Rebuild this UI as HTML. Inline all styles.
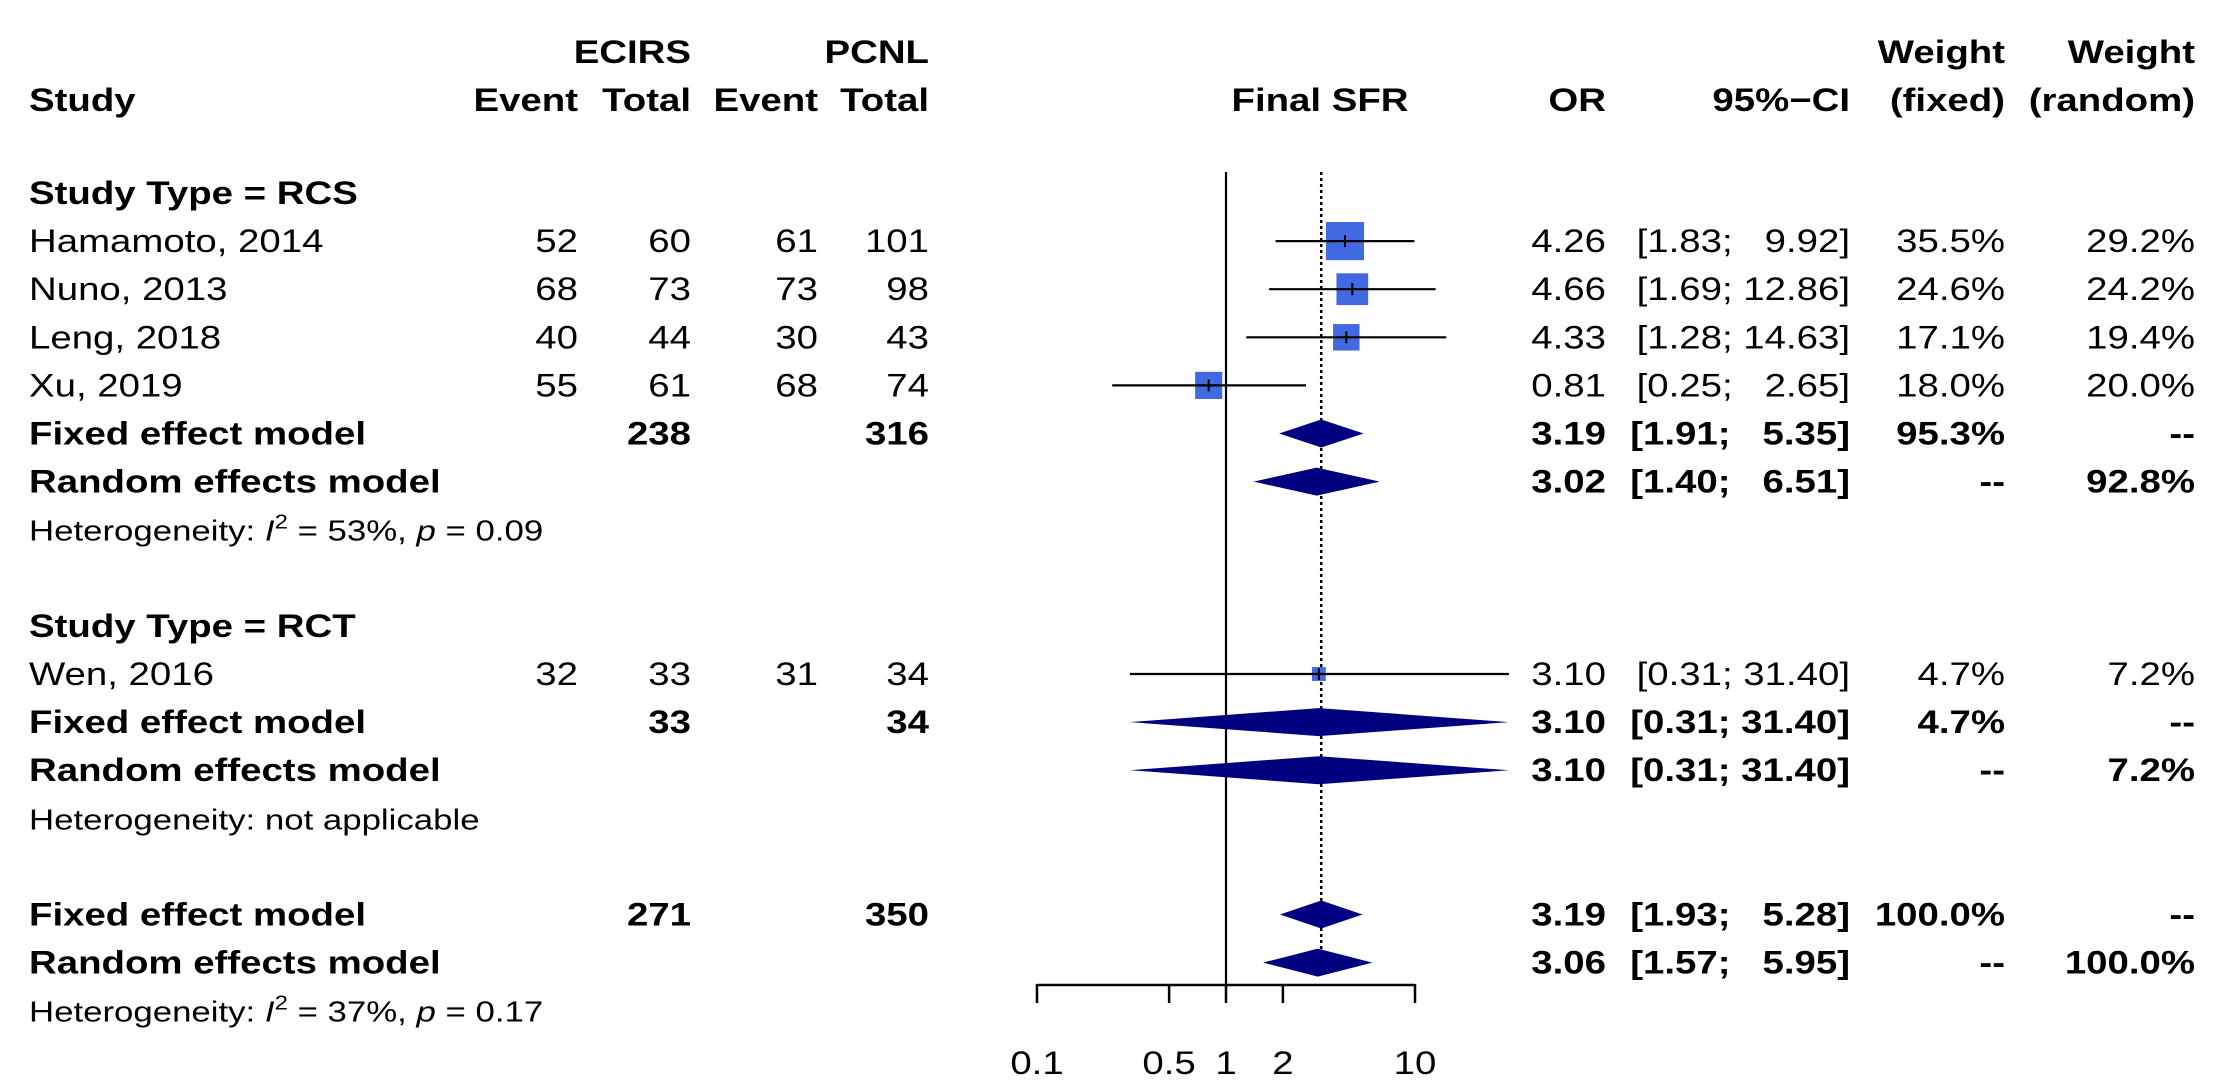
<!DOCTYPE html>
<html><head><meta charset="utf-8"><style>
html,body{margin:0;padding:0;background:#fff;}
svg{display:block;}
</style></head><body>
<svg id="chart" xmlns="http://www.w3.org/2000/svg" width="2233" height="1089" viewBox="0 0 2233 1089" font-family="'Liberation Sans', Arial, sans-serif"></svg>
<script>
const studyLabels = ["Hamamoto, 2014","Nuno, 2013","Leng, 2018","Xu, 2019","Wen, 2016"];
const studyRows = [1,2,3,4,10];
const ecirsEvent = [52,68,40,55,32];
const ecirsTotal = [60,73,44,61,33];
const pcnlEvent = [61,73,30,68,31];
const pcnlTotal = [101,98,43,74,34];
const studyOR = [4.26,4.66,4.33,0.81,3.10];
const studyLo = [1.83,1.69,1.28,0.25,0.31];
const studyHi = [9.92,12.86,14.63,2.65,31.40];
const weightFixed = [35.5,24.6,17.1,18.0,4.7];
const weightRandom = [29.2,24.2,19.4,20.0,7.2];

const modelLabels = ["Fixed effect model","Random effects model","Fixed effect model","Random effects model","Fixed effect model","Random effects model"];
const modelRows = [5,6,11,12,15,16];
const modelOR = [3.19,3.02,3.10,3.10,3.19,3.06];
const modelLo = [1.91,1.40,0.31,0.31,1.93,1.57];
const modelHi = [5.35,6.51,31.40,31.40,5.28,5.95];
const modelEcirsTotal = ["238","","33","","271",""];
const modelPcnlTotal = ["316","","34","","350",""];
const modelWFixed = ["95.3%","--","4.7%","--","100.0%","--"];
const modelWRandom = ["--","92.8%","--","7.2%","--","100.0%"];

const tickValues = [0.1,0.5,1,2,10];
const tickLabels = ["0.1","0.5","1","2","10"];
const overallFixedOR = 3.19;

const svg = document.getElementById('chart');
const NS = 'http://www.w3.org/2000/svg';
const FS = 32, SX = 1.2;
const rowY = r => 193 + 48.1 * r;
const xScale = v => 1226 + 189 * Math.log10(v);

function txt(x, y, s, anchor, bold, size) {
  const t = document.createElementNS(NS, 'text');
  t.setAttribute('transform', `translate(${x},${y}) scale(${SX},1)`);
  t.setAttribute('text-anchor', anchor || 'start');
  t.setAttribute('font-size', size || FS);
  if (bold) t.setAttribute('font-weight', 'bold');
  t.textContent = s;
  svg.appendChild(t);
  return t;
}
function line(x1, y1, x2, y2, w, dash) {
  const l = document.createElementNS(NS, 'line');
  l.setAttribute('x1', x1); l.setAttribute('y1', y1);
  l.setAttribute('x2', x2); l.setAttribute('y2', y2);
  l.setAttribute('stroke', '#000'); l.setAttribute('stroke-width', w || 2);
  if (dash) l.setAttribute('stroke-dasharray', dash);
  svg.appendChild(l);
  return l;
}
const B = 11;
const cL = 29, cE1 = 578, cT1 = 691, cE2 = 818, cT2 = 929, cOR = 1606, cCI = 1850, cWF = 2005, cWR = 2195;
function ci(lo, hi) {
  const a = lo.toFixed(2), b = hi.toFixed(2);
  return '[' + a + ';' + (b.length < 5 ? '\u2007 ' : ' ') + b + ']';
}

let t;
t = txt(cT1, 52 + B, 'ECIRS', 'end', true);
 
t = txt(cT2, 52 + B, 'PCNL', 'end', true);
 
t = txt(cWF, 52 + B, 'Weight', 'end', true);
 
t = txt(cWR, 52 + B, 'Weight', 'end', true);
 
const hdr = [[cL,'Study','start'],[cE1,'Event','end'],[cT1,'Total','end'],[cE2,'Event','end'],[cT2,'Total','end'],[1320,'Final SFR','middle'],[cOR,'OR','end'],[cCI,'95%\u2212CI','end'],[cWF,'(fixed)','end'],[cWR,'(random)','end']];
hdr.forEach(h => {
  const e = txt(h[0], 100 + B, h[1], h[2], true);
  
  
});

t = txt(cL, rowY(0) + B, 'Study Type = RCS', 'start', true);
 
t = txt(cL, rowY(9) + B, 'Study Type = RCT', 'start', true);
 

function het(row, parts) {
  const e = document.createElementNS(NS, 'text');
  e.setAttribute('transform', `translate(${cL},${rowY(row) + B}) scale(${SX},1)`);
  e.setAttribute('font-size', 29);
  parts.forEach(p => {
    const s = document.createElementNS(NS, 'tspan');
    if (p[1] === 'i') s.setAttribute('font-style', 'italic');
    if (p[1] === 'sup') { s.setAttribute('font-size', 20); s.setAttribute('dy', -12); }
    if (p[1] === 'down') s.setAttribute('dy', 12);
    s.textContent = p[0];
    e.appendChild(s);
  });
  
  
  svg.appendChild(e);
}
het(7, [['Heterogeneity: '],['I','i'],['2','sup'],[' = 53%, ','down'],['p','i'],[' = 0.09']]);
het(13, [['Heterogeneity: not applicable']]);
het(17, [['Heterogeneity: '],['I','i'],['2','sup'],[' = 37%, ','down'],['p','i'],[' = 0.17']]);

const nl = line(xScale(1), 172, xScale(1), 985, 2.2);
 
const dl = line(xScale(overallFixedOR), 172, xScale(overallFixedOR), 950, 2.5, '3,3');
 
const ax = line(xScale(tickValues[0]), 985, xScale(tickValues[tickValues.length - 1]), 985, 2.5);
 
tickValues.forEach((v, i) => {
  const tk = line(xScale(v), 984, xScale(v), 1003, 2.5);
   
  const tl = txt(xScale(v), 1074, tickLabels[i], 'middle', false);
   
});

studyLabels.forEach((lab, i) => {
  const y = rowY(studyRows[i]);
  let e = txt(cL, y + B, lab, 'start', false);
   
  [[cE1, ecirsEvent[i]], [cT1, ecirsTotal[i]], [cE2, pcnlEvent[i]], [cT2, pcnlTotal[i]], [cOR, studyOR[i].toFixed(2)], [cCI, ci(studyLo[i], studyHi[i])], [cWF, weightFixed[i].toFixed(1) + '%'], [cWR, weightRandom[i].toFixed(1) + '%']].forEach(c => {
    const v = txt(c[0], y + B, String(c[1]), 'end', false);
     
  });
  const side = 6.4 * Math.sqrt(weightFixed[i]);
  const r = document.createElementNS(NS, 'rect');
  r.setAttribute('x', xScale(studyOR[i]) - side / 2);
  r.setAttribute('y', y - side / 2);
  r.setAttribute('width', side); r.setAttribute('height', side);
  r.setAttribute('fill', '#4169e1');
  
  
  svg.appendChild(r);
  const m = line(xScale(studyOR[i]), y - 6, xScale(studyOR[i]), y + 6, 2);
   
  const wr = line(xScale(studyLo[i]), y, xScale(studyHi[i]), y, 2.2);
   
});

modelLabels.forEach((lab, i) => {
  const y = rowY(modelRows[i]);
  let e = txt(cL, y + B, lab, 'start', true);
   
  [[cT1, modelEcirsTotal[i]], [cT2, modelPcnlTotal[i]], [cOR, modelOR[i].toFixed(2)], [cCI, ci(modelLo[i], modelHi[i])], [cWF, modelWFixed[i]], [cWR, modelWRandom[i]]].forEach(c => {
    if (!c[1]) return;
    const v = txt(c[0], y + B, c[1], 'end', true);
     
  });
  const p = document.createElementNS(NS, 'polygon');
  const xl = xScale(modelLo[i]), xc = xScale(modelOR[i]), xh = xScale(modelHi[i]);
  p.setAttribute('points', `${xl},${y} ${xc},${y - 14} ${xh},${y} ${xc},${y + 14}`);
  p.setAttribute('fill', '#000080');
  
  
  svg.appendChild(p);
});
</script>
</body></html>
